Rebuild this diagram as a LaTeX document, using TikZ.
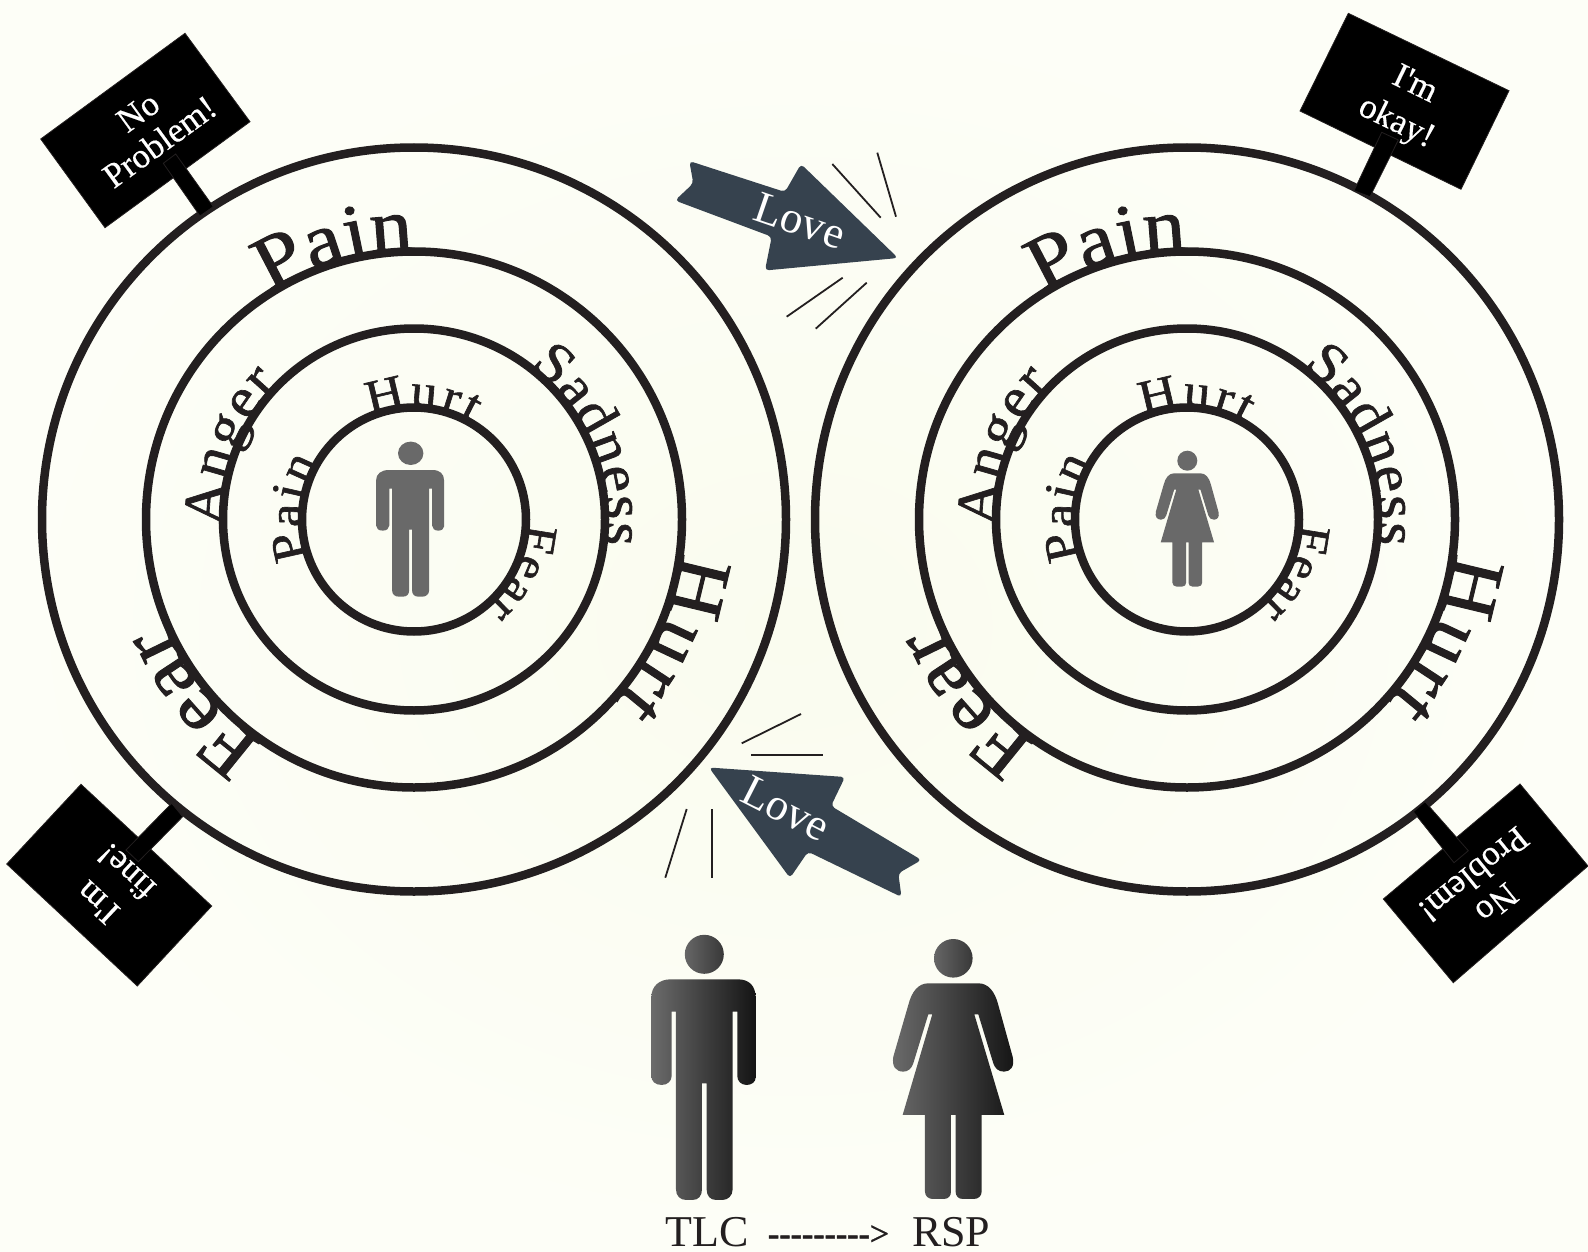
\documentclass[tikz,border=0pt]{standalone}
\usepackage{fontspec}
\usetikzlibrary{decorations.text}
\newfontfamily\fs{Liberation Serif}
\newfontfamily\lblwide[FakeBold=1.3,FakeStretch=1.12]{Liberation Serif}
\newfontfamily\lblmid[FakeBold=1.2,FakeStretch=1.08]{Liberation Serif}
\newfontfamily\fsdash[FakeBold=1.5]{Liberation Serif}
\newfontfamily\fssign[FakeBold=0.4]{Liberation Serif}
\definecolor{ink}{HTML}{231F20}
\definecolor{slate}{HTML}{36424E}
\definecolor{bgin}{HTML}{FAFCEF}
\definecolor{bgout}{HTML}{FDFEF7}
\definecolor{smallfig}{HTML}{696969}
\newcommand\labA{\lblwide\fontsize{76pt}{76pt}\selectfont\color{ink}}
\newcommand\labB{\lblmid\fontsize{56pt}{56pt}\selectfont\color{ink}}
\newcommand\labC{\lblwide\fontsize{47pt}{47pt}\selectfont\color{ink}}
\newcommand\labD{\lblwide\fontsize{45pt}{45pt}\selectfont\color{ink}}
% centre x, centre y, radius, start and end angle (clockwise from up), font, text
\newcommand\ringlabel[7]{%
  \begin{scope}[x=1pt,y=1pt]
  \path[decorate,decoration={text along path,text={|#6|#7},text align={fit to path}}]
    ({#1+#3*sin(#4)},{-#2+#3*cos(#4)}) arc[start angle={90-#4},end angle={90-#5},radius=#3pt];
  \end{scope}}
\newcommand\manbody{(-100,0) -- (100,0) .. controls (135,0) and (154,20) .. (154,55) -- (154,295)
  .. controls (154,308) and (142,317) .. (127,317) .. controls (110,317) and (99,305) .. (99,290)
  -- (99,97) -- (85,97) -- (85,630) .. controls (85,650) and (70,662) .. (55,662) -- (35,662)
  .. controls (18,662) and (7,650) .. (7,630) -- (7,312) -- (-7,312) -- (-7,630)
  .. controls (-7,650) and (-18,662) .. (-35,662) -- (-55,662) .. controls (-72,662) and (-85,650) .. (-85,630)
  -- (-85,97) -- (-98,97) -- (-98,290) .. controls (-98,305) and (-110,317) .. (-128,317)
  .. controls (-148,317) and (-159,305) .. (-159,290) -- (-159,55) .. controls (-159,20) and (-135,0) .. (-100,0) -- cycle}
\newcommand\womanbody{(-75,0) -- (75,0) .. controls (105,0) and (125,25) .. (135,65) -- (178,220)
  .. controls (185,250) and (172,265) .. (152,265) .. controls (135,265) and (125,255) .. (120,240)
  -- (75,93) -- (63,93) -- (153,395) -- (85,395) -- (85,625) .. controls (85,638) and (75,647) .. (62,647)
  -- (28,647) .. controls (15,647) and (7,638) .. (7,625) -- (7,395) -- (-7,395) -- (-7,625)
  .. controls (-7,638) and (-15,647) .. (-28,647) -- (-62,647) .. controls (-75,647) and (-85,638) .. (-85,625)
  -- (-85,395) -- (-152,395) -- (-63,93) -- (-75,93) -- (-120,240)
  .. controls (-125,255) and (-135,265) .. (-150,265) .. controls (-172,265) and (-185,250) .. (-180,220)
  -- (-135,65) .. controls (-125,25) and (-105,0) .. (-75,0) -- cycle}
\tikzset{
  ring/.style={draw=ink,line width=8.5pt},
  board/.style={fill=black,draw=ink,line width=0.8pt,line join=miter},
  signtext/.style={text=white,font=\fssign\fontsize{35pt}{37pt}\selectfont,align=center,inner sep=0pt},
  signwide/.style={signtext,font=\fssign\fontsize{35pt}{42pt}\selectfont},
  lovearrow/.style={fill=slate,rounded corners=4pt},
  lovetext/.style={text=white,font=\fs\fontsize{45pt}{45pt}\selectfont,inner sep=0pt},
  burst/.style={draw=ink,line width=1.8pt},
  caption/.style={text=ink,font=\fs\fontsize{44pt}{44pt}\selectfont,inner sep=0pt,anchor=base},
  bigfig/.style={left color=#1,right color=black!92!white},
  bigfig/.default={black!58!white},
}
\begin{document}
\begin{tikzpicture}[x=1pt,y=-1pt]
\useasboundingbox (0,0) rectangle (1588,1252);
\shade[inner color=bgin,outer color=bgout] (0,0) rectangle (1588,1252);

% rings and their labels
\foreach \cx in {414,1187}{
  \foreach \r in {372,268,191,112}{
    \draw[ring] (\cx,519.5) circle[radius=\r pt];
  }
  \ringlabel{\cx}{519.5}{269}{-32.5}{0}{\labA}{Pain}
  \ringlabel{\cx}{519.5}{269}{97}{132}{\labA}{Hurt}
  \ringlabel{\cx}{519.5}{270}{214}{247}{\labA}{Fear}
  \ringlabel{\cx}{519.5}{192}{268}{315}{\labB}{Anger}
  \ringlabel{\cx}{519.5}{192}{37}{97.5}{\labB}{Sadness}
  \ringlabel{\cx}{519.5}{113}{-23}{31}{\labC}{Hurt}
  \ringlabel{\cx}{519.5}{113}{250}{301}{\labC}{Pain}
  \ringlabel{\cx}{519.5}{113}{92}{140}{\labD}{Fear}
}

% signs
\draw[board] (185,33.3) -- (250,121.7) -- (105,227.7) -- (40.7,139) -- cycle;
\draw[board] (163.3,163.3) -- (175.7,154) -- (213.3,206.7) -- (200,216) -- cycle;
\node[signtext,rotate=36] (signa) at (149,127) {No\\Problem!};

\draw[board] (1348.3,13.3) -- (1509,90.7) -- (1461,189.3) -- (1300,111) -- cycle;
\draw[board] (1381.7,132.3) -- (1398.3,140) -- (1370,196.7) -- (1354,190.7) -- cycle;
\node[signwide,rotate=-26] (signb) at (1405,105) {I'm\\okay!};

\draw[board] (81,784.3) -- (211.7,906) -- (137.3,986) -- (6.7,864) -- cycle;
\draw[board] (171.7,803.3) -- (182.7,816.7) -- (138.3,861.7) -- (126,850) -- cycle;
\node[signwide,rotate=137] (signc) at (112,887) {I'm\\fine!};

\draw[board] (1520,784) -- (1588,866) -- (1453.3,982.7) -- (1383.3,899) -- cycle;
\draw[board] (1425,801.7) -- (1468.3,850.7) -- (1454,862.7) -- (1413.3,811.7) -- cycle;
\node[signtext,rotate=219] (signd) at (1485,889) {No\\Problem!};

% love arrows
\fill[lovearrow] (689.3,161) -- (785,192) -- (801,164) -- (898,258) -- (765,270.5) -- (771.7,236.7) -- (675,200.5) -- (693.3,183.3) -- cycle;
\node[lovetext,rotate=-19] (lovea) at (800,221) {Love};
\fill[lovearrow] (709,767.5) -- (845,777) -- (831,806) -- (921.5,860) -- (898.3,873.3) -- (901.5,897) -- (808,851.7) -- (790,878) -- cycle;
\node[lovetext,rotate=-27] (loveb) at (786,809) {Love};

% burst lines
\coordinate (b1s) at (832.3,164); \coordinate (b1e) at (880.7,217.7);
\coordinate (b2s) at (877.3,152.7); \coordinate (b2e) at (896,216.7);
\coordinate (b3s) at (842.7,277.7); \coordinate (b3e) at (786.7,316.7);
\coordinate (b4s) at (866.7,282.7); \coordinate (b4e) at (815.7,328.7);
\coordinate (b5s) at (801,714); \coordinate (b5e) at (741.7,743.3);
\coordinate (b6s) at (822.7,755.3); \coordinate (b6e) at (750.7,755.3);
\coordinate (b7s) at (686.7,809); \coordinate (b7e) at (665.3,877.7);
\coordinate (b8s) at (711.7,809); \coordinate (b8e) at (711.7,877.7);
\foreach \i in {1,...,8}{ \draw[burst] (b\i s) -- (b\i e); }

% small figures
\fill[smallfig] (410.7,453.3) ellipse[x radius=12.7pt,y radius=11.7pt];
\fill[smallfig,shift={(410.6,470)},xscale=0.2173,yscale=0.1913] \manbody;
\fill[smallfig] (1187.3,460.7) circle[radius=10pt];
\fill[smallfig,shift={(1187.3,473.3)},scale=0.175] \womanbody;

% large figures
\path[left color=black!60!white,right color=black!78!white] (704.3,954.3) circle[radius=19.5pt];
\path[bigfig,shift={(704.3,979.3)},scale=0.3333] \manbody;
\path[left color=black!60!white,right color=black!78!white] (953.3,958.3) circle[radius=19.3pt];
\path[bigfig,shift={(953.3,983.3)},scale=0.3333] \womanbody;

% captions
\node[caption] (tlc) at (707.5,1246.7) {TLC};
\node[caption] (rsp) at (951.3,1246.7) {RSP};
\node[caption,font=\fsdash\fontsize{34pt}{34pt}\selectfont] (dash) at (828.5,1245) {--------->};
\end{tikzpicture}
\end{document}
